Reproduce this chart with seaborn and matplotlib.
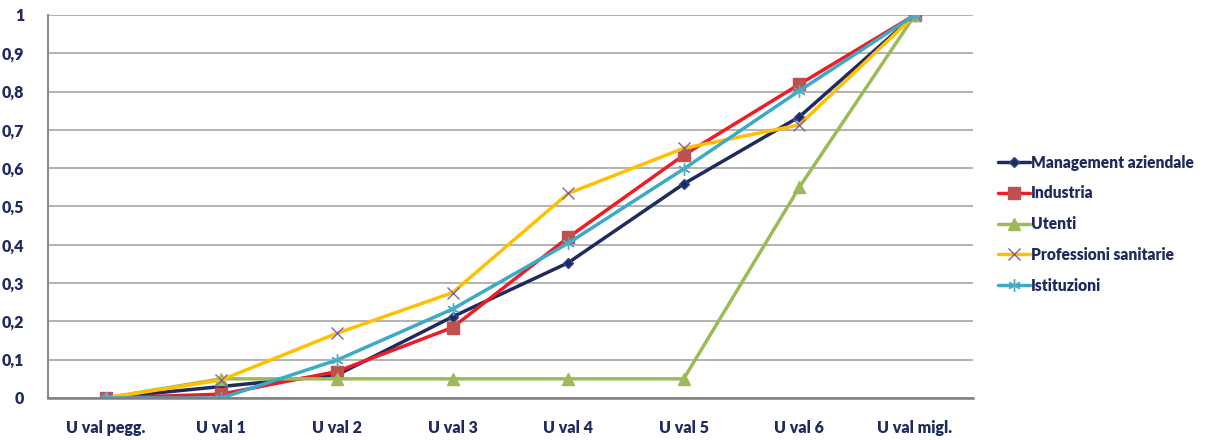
import pandas as pd
import matplotlib.pyplot as plt
import seaborn as sns

# --- Data ---
categories = ['U val pegg.', 'U val 1', 'U val 2', 'U val 3', 'U val 4', 'U val 5', 'U val 6', 'U val migl.']
management = [0, 0.03, 0.06, 0.212, 0.353, 0.559, 0.734, 1]
industria = [0, 0.01, 0.069, 0.184, 0.419, 0.634, 0.819, 1]
utenti = [0, 0.05, 0.05, 0.05, 0.05, 0.05, 0.55, 1]
professioni = [0, 0.047, 0.169, 0.275, 0.534, 0.652, 0.713, 1]
istituzioni = [0, 0, 0.099, 0.232, 0.404, 0.598, 0.802, 1]

series_names = ['Management aziendale', 'Industria', 'Utenti', 'Professioni sanitarie', 'Istituzioni']
series_values = [management, industria, utenti, professioni, istituzioni]

# line colour, marker, marker face, marker edge, marker size
styles = {
    'Management aziendale': ('#1F2A5E', 'D', '#1F2A5E', '#2E4A8C', 5),
    'Industria': ('#EE1C25', 's', '#C0504D', '#C0504D', 8),
    'Utenti': ('#9BBB59', '^', '#9BBB59', '#9BBB59', 8),
    'Professioni sanitarie': ('#FFC000', 'x', '#8064A2', '#8064A2', 8),
    'Istituzioni': ('#3AAAC8', (6, 2, 0), '#4BACC6', '#4BACC6', 9),
}

text_color = '#1F2A5E'

sns.set_style('white')
plt.rcParams['font.family'] = ['Lato', 'DejaVu Sans']

fig = plt.figure(figsize=(12.2, 4.4), dpi=100)
ax = fig.add_axes([0.0393, 0.0955, 0.758, 0.8705])

for name, vals in zip(series_names, series_values):
    df = pd.DataFrame({'cat': range(len(categories)), 'val': vals})
    lc, mk, mfc, mec, ms = styles[name]
    sns.lineplot(data=df, x='cat', y='val', ax=ax, color=lc, linewidth=2.5,
                 marker=mk, markersize=ms, markerfacecolor=mfc, markeredgecolor=mec,
                 markeredgewidth=1.0, label=name)

ax.set_xlim(-0.5, len(categories) - 0.5)
ax.set_ylim(0, 1)
ax.set_xticks(range(len(categories)))
ax.set_xticklabels(categories)
yt = [i / 10 for i in range(11)]
ax.set_yticks(yt)
ax.set_yticklabels(['0' if v == 0 else '1' if v == 1 else f'{v:.1f}'.replace('.', ',') for v in yt])
ax.set_xlabel('')
ax.set_ylabel('')

ax.grid(axis='y', color='#A6A6A6', linewidth=1.2)
ax.grid(axis='x', visible=False)
ax.set_axisbelow(True)
for side in ['top', 'right']:
    ax.spines[side].set_visible(False)
ax.spines['left'].set_color('#8C8C8C')
ax.spines['left'].set_linewidth(1.5)
ax.spines['bottom'].set_color('#808080')
ax.spines['bottom'].set_linewidth(1.8)
ax.tick_params(axis='both', length=0, labelsize=11.5, labelcolor=text_color)
ax.tick_params(axis='x', pad=16)
ax.tick_params(axis='y', pad=17)
for lab in ax.get_xticklabels() + ax.get_yticklabels():
    lab.set_fontweight('heavy')

leg = ax.legend(loc='center left', bbox_to_anchor=(1.012, 0.454), frameon=False,
                handlelength=2.1, handletextpad=0.05, labelspacing=0.95,
                prop={'weight': 'heavy', 'size': 11.2})
for t in leg.get_texts():
    t.set_color(text_color)

fig.savefig('out.png', dpi=100)
